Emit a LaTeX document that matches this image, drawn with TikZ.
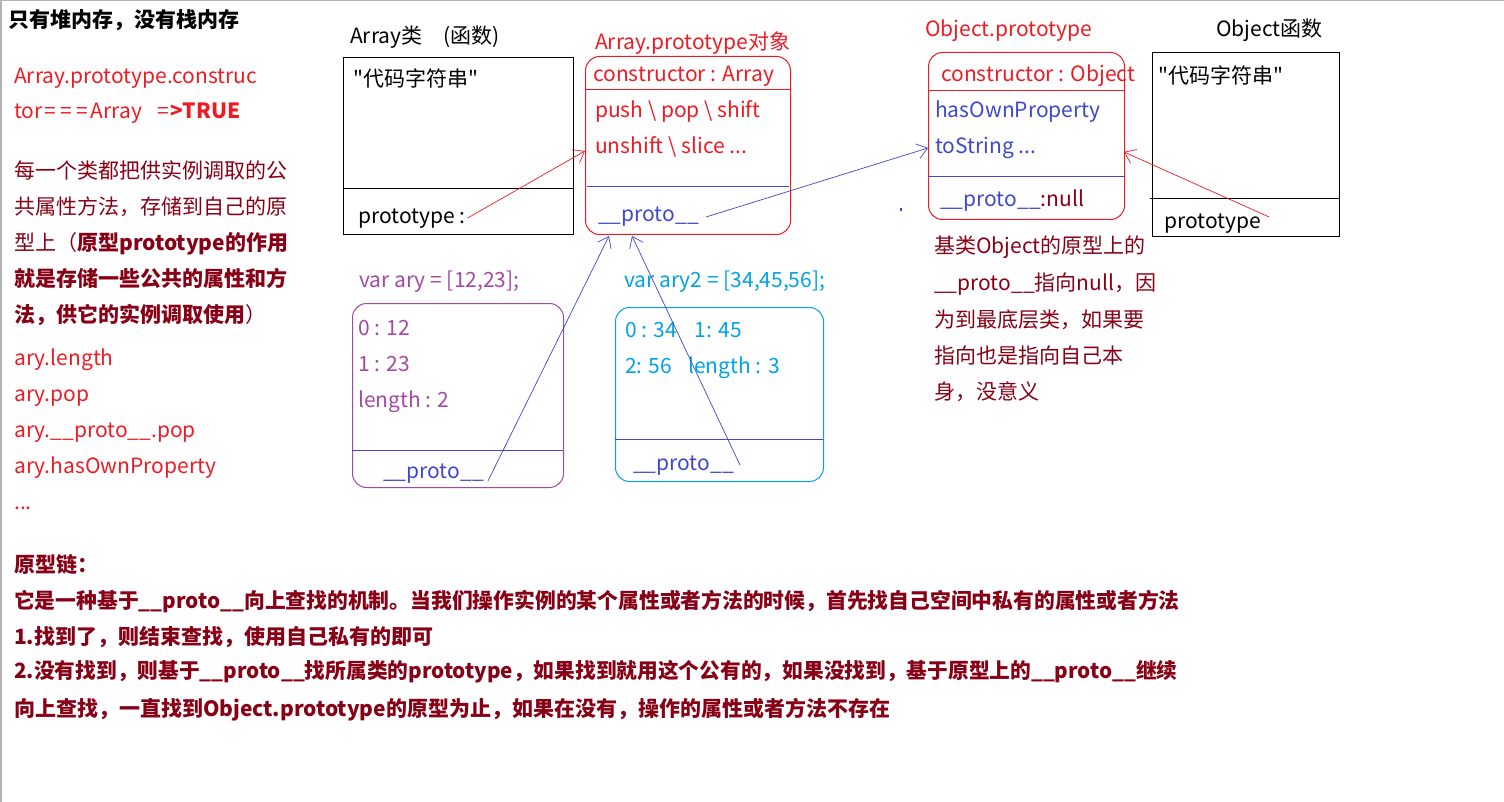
\documentclass[tikz,border=0pt]{standalone}
\usepackage{fontspec}
\setmainfont{Noto Sans CJK SC}
\newfontfamily\plainf{Noto Sans CJK SC}
\usetikzlibrary{arrows.meta}
\definecolor{pred}{RGB}{237,28,36}
\definecolor{pblue}{RGB}{63,72,204}
\definecolor{ppurple}{RGB}{163,73,164}
\definecolor{pcyan}{RGB}{0,162,232}
\definecolor{pdark}{RGB}{136,0,21}
\newcommand{\dq}{{\plainf"}}
\newcommand{\eqb}[1]{\makebox[#1]{=}}
\begin{document}
\begin{tikzpicture}[x=1pt,y=-1pt,
  txt/.style={anchor=west,inner sep=0pt,yshift=-4pt,font=\fontsize{21}{25}\selectfont,text height=0.88em,text depth=0.12em},
  btxt/.style={txt,font=\fontsize{21}{25}\selectfont\bfseries},
  sqbox/.style={draw,line width=1pt,anchor=north west,inner sep=0pt},
  rbox/.style={draw,line width=1pt,anchor=north west,inner sep=0pt,rounded corners=14pt},
  conn/.style={line width=0.7pt,-{Straight Barb[length=10pt,width=15pt,line width=0.7pt]}}]
\useasboundingbox (0,0) rectangle (1504,802);
\fill[white] (0,0) rectangle (1504,802);
\draw[gray!60,line width=1.5pt] (0.75,802) -- (0.75,0.75) -- (1504,0.75);

% left column
\node[btxt,black] (title) at (8,20) {只有堆内存，没有栈内存};
\node[txt,pred] (l1) at (14,76) {Array.prototype.construc};
\node[txt,pred] (l2) at (14,111) {tor\eqb{16pt}\eqb{16pt}\eqb{16pt}Array\hspace{14pt}\eqb{14pt}\makebox[13pt]{\textbf{>}}\textbf{TRUE}};
\node[txt,pdark] (l3) at (14,171) {每一个类都把供实例调取的公};
\node[txt,pdark] (l4) at (14,207) {共属性方法，存储到自己的原};
\node[txt,pdark] (l5) at (14,243) {型上（\textbf{原型prototype的作用}};
\node[btxt,pdark] (l6) at (14,279) {就是存储一些公共的属性和方};
\node[txt,pdark] (l7) at (14,315) {\textbf{法，供它的实例调取使用}）};
\node[txt,pred] (l8) at (14,358) {ary.length};
\node[txt,pred] (l9) at (14,394) {ary.pop};
\node[txt,pred] (l10) at (14,430) {ary.\_\_proto\_\_.pop};
\node[txt,pred] (l11) at (14,466) {ary.hasOwnProperty};
\node[txt,pred] (l12) at (14,502) {...};

% Array function box
\node[txt,black] (arrlabel) at (350,36) {Array类\hspace{21pt}(函数)};
\node[sqbox,minimum width=230pt,minimum height=177pt] (arrbox) at (343,57) {};
\draw[line width=1pt] (343,189) -- (573,189);
\node[txt,black] (arrcode) at (353,79) {\dq 代码字符串\dq};
\node[txt,black] (protoA) at (358,216) {prototype :};

% Array.prototype box
\node[txt,pred] (aplabel) at (595,42) {Array.prototype对象};
\node[rbox,pred,minimum width=205pt,minimum height=178pt] (apbox) at (585,56) {};
\draw[pred,line width=1pt] (585,90) -- (790,90);
\draw[pblue,line width=1pt] (587,187) -- (789,187);
\node[txt,pred] (apc) at (593,74) {constructor : Array};
\node[txt,pred] (ap1) at (595,110) {push \textbackslash{} pop \textbackslash{} shift};
\node[txt,pred] (ap2) at (595,146) {unshift \textbackslash{} slice ...};
\node[txt,pblue] (approto) at (598,214) {\_\_proto\_\_};

% Object.prototype box
\node[txt,pred] (oplabel) at (925,29) {Object.prototype};
\node[rbox,pred,minimum width=196pt,minimum height=167pt] (opbox) at (928,52) {};
\draw[pred,line width=1pt] (928,91) -- (1124,91);
\draw[pblue,line width=1pt] (928,177) -- (1124,177);
\node[txt,pred] (opc) at (941,74) {constructor : Object};
\node[txt,pblue] (op1) at (935,110) {hasOwnProperty};
\node[txt,pblue] (op2) at (935,146) {toString ...};
\node[txt,pblue] (opproto) at (940,199) {\_\_proto\_\_\textcolor{pdark}{:null}};

% Object function box
\node[txt,black] (oflabel) at (1216,29) {Object函数};
\node[sqbox,minimum width=187pt,minimum height=184pt] (ofbox) at (1152,52) {};
\draw[line width=1pt] (1150,199) -- (1339,199);
\node[txt,black] (ofcode) at (1158,76) {\dq 代码字符串\dq};
\node[txt,black] (protoO) at (1164,221) {prototype};

% note
\node[txt,pdark] (n1) at (934,246) {基类Object的原型上的};
\node[txt,pdark] (n2) at (934,283) {\_\_proto\_\_指向null，因};
\node[txt,pdark] (n3) at (934,320) {为到最底层类，如果要};
\node[txt,pdark] (n4) at (934,356) {指向也是指向自己本};
\node[txt,pdark] (n5) at (934,392) {身，没意义};

% ary box
\node[txt,ppurple] (arylabel) at (359,280) {var ary = [12,23];};
\node[rbox,ppurple,minimum width=211pt,minimum height=184pt] (arybox) at (352,303) {};
\draw[pblue,line width=1pt] (352,450) -- (563,450);
\node[txt,ppurple] (ary0) at (358,328) {0 : 12};
\node[txt,ppurple] (ary1) at (358,364) {1 : 23};
\node[txt,ppurple] (aryl) at (358,400) {length : 2};
\node[txt,pblue] (aryproto) at (383,471) {\_\_proto\_\_};

% ary2 box
\node[txt,pcyan] (ary2label) at (624,280) {var ary2 = [34,45,56];};
\node[rbox,pcyan,minimum width=208pt,minimum height=174pt] (ary2box) at (615,307) {};
\draw[pblue,line width=1pt] (615,439) -- (823,439);
\node[txt,pcyan] (a20) at (625,330) {0 : 34\hspace{18pt}1: 45};
\node[txt,pcyan] (a21) at (625,366) {2: 56\hspace{16pt}length : 3};
\node[txt,pblue] (ary2proto) at (633,463) {\_\_proto\_\_};

\fill[pblue] (900,208.5) rectangle (902,211);

% bottom text
\node[btxt,pdark] (b1) at (14,565) {原型链：};
\node[btxt,pdark] (b2) at (14,601) {\scalebox{0.99}[1]{它是一种基于\_\_proto\_\_向上查找的机制。当我们操作实例的某个属性或者方法的时候，首先找自己空间中私有的属性或者方法}};
\node[btxt,pdark] (b3) at (14,637) {1.找到了，则结束查找，使用自己私有的即可};
\node[btxt,pdark] (b4) at (14,671) {\scalebox{0.987}[1]{2.没有找到，则基于\_\_proto\_\_找所属类的prototype，如果找到就用这个公有的，如果没找到，基于原型上的\_\_proto\_\_继续}};
\node[btxt,pdark] (b5) at (14,709) {向上查找，一直找到Object.prototype的原型为止，如果在没有，操作的属性或者方法不存在};

% connectors
\coordinate (t1) at (585,151);
\coordinate (t2) at (928,148);
\coordinate (t3) at (1124,152);
\coordinate (t4) at (609,236);
\coordinate (t5) at (632,236);
\draw[conn,pred] ([xshift=2pt,yshift=2pt]protoA.east) -- (t1);
\draw[conn,pblue] ([xshift=7pt,yshift=1pt]approto.east) -- (t2);
\draw[conn,pred] ([xshift=8pt,yshift=8pt]protoO.east) -- (t3);
\draw[conn,pblue] ([xshift=4pt,yshift=-6pt]aryproto.east) -- (t4);
\draw[conn,pblue] ([xshift=6pt,yshift=2pt]ary2proto.east) -- (t5);
\end{tikzpicture}
\end{document}
